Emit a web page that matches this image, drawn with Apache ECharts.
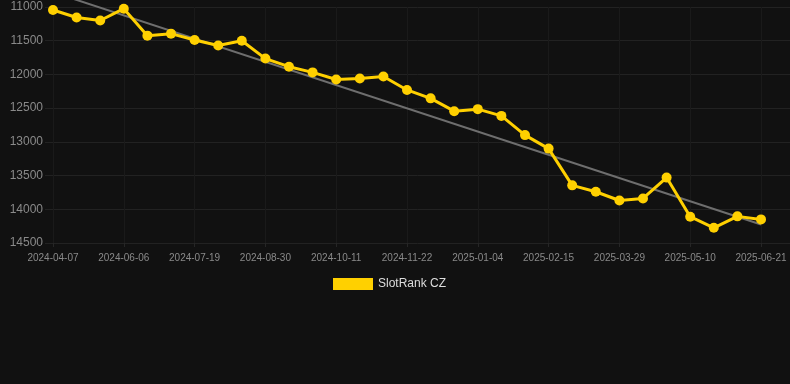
<!DOCTYPE html>
<html>
<head>
<meta charset="utf-8">
<script src="https://cdn.jsdelivr.net/npm/echarts@6/dist/echarts.min.js"></script>
<style>
html,body{margin:0;padding:0;background:#111111;}
#c{width:790px;height:384px;}
</style>
</head>
<body>
<div id="c"></div>
<script>
var categories = [
  "2024-04-07","2024-04-27","2024-05-17","2024-06-06","2024-06-20","2024-07-05",
  "2024-07-19","2024-08-02","2024-08-16","2024-08-30","2024-09-13","2024-09-27",
  "2024-10-11","2024-10-25","2024-11-08","2024-11-22","2024-12-06","2024-12-20",
  "2025-01-04","2025-01-18","2025-02-01","2025-02-15","2025-03-01","2025-03-15",
  "2025-03-29","2025-04-12","2025-04-26","2025-05-10","2025-05-24","2025-06-07",
  "2025-06-21"
];
var rankValues = [
  11045, 11155, 11200, 11025, 11425, 11395,
  11490, 11570, 11500, 11765, 11885, 11970,
  12075, 12060, 12030, 12230, 12355, 12545,
  12515, 12615, 12900, 13100, 13645, 13740,
  13870, 13840, 13530, 14110, 14275, 14105,
  14150
];
var trendStart = 10780;
var trendEnd = 14225;
var yTicks = [11000, 11500, 12000, 12500, 13000, 13500, 14000, 14500];
var seriesName = "SlotRank CZ";

var trendData = categories.map(function (c, i) {
  if (i === 0) return trendStart;
  if (i === categories.length - 1) return trendEnd;
  return null;
});

var yMin = yTicks[0], yMax = yTicks[yTicks.length - 1], yStep = yTicks[1] - yTicks[0];

var chart = echarts.init(document.getElementById('c'), null, {renderer: 'canvas'});
chart.setOption({
  backgroundColor: '#111111',
  animation: false,
  grid: [
    {left: 45, right: 0, top: 7, height: 236, containLabel: false},
    {left: 53, right: 29, top: 7, height: 236, containLabel: false}
  ],
  legend: {
    data: [seriesName],
    top: 273,
    left: 328,
    icon: 'rect',
    itemWidth: 40,
    itemHeight: 12,
    itemGap: 10,
    textStyle: {color: '#dddddd', fontSize: 12, fontFamily: 'Liberation Sans, Arial, sans-serif'}
  },
  xAxis: [
    {
      type: 'value', gridIndex: 0, min: 0, max: 1, show: false,
      splitLine: {show: false}
    },
    {
      type: 'category', gridIndex: 1, data: categories, boundaryGap: false,
      axisLine: {show: false},
      axisTick: {show: true, interval: 2, length: 4, lineStyle: {color: '#262626'}},
      axisLabel: {
        interval: 2, color: '#8a8a8a', fontSize: 10, margin: 10,
        fontFamily: 'Liberation Sans, Arial, sans-serif'
      },
      splitLine: {show: true, interval: 2, lineStyle: {color: '#1a1a1a', width: 1}}
    }
  ],
  yAxis: [
    {
      type: 'value', gridIndex: 0, inverse: true, min: yMin, max: yMax, interval: yStep,
      axisLabel: {show: false}, axisLine: {show: false}, axisTick: {show: false},
      splitLine: {show: true, lineStyle: {color: '#222222', width: 1}}
    },
    {
      type: 'value', gridIndex: 1, inverse: true, min: yMin, max: yMax, interval: yStep,
      axisLine: {show: false}, axisTick: {show: false},
      axisLabel: {
        color: '#8a8a8a', fontSize: 12, margin: 10,
        fontFamily: 'Liberation Sans, Arial, sans-serif',
        formatter: function (v) { return String(v); }
      },
      splitLine: {show: false}
    }
  ],
  series: [
    {
      name: 'trend',
      type: 'line',
      xAxisIndex: 1, yAxisIndex: 1,
      data: trendData,
      connectNulls: true,
      showSymbol: false,
      symbol: 'none',
      clip: false,
      lineStyle: {color: '#6e6e6e', width: 2},
      silent: true,
      z: 1
    },
    {
      name: seriesName,
      type: 'line',
      xAxisIndex: 1, yAxisIndex: 1,
      data: rankValues,
      symbol: 'circle',
      symbolSize: 10,
      clip: false,
      itemStyle: {color: '#FFD000'},
      lineStyle: {color: '#FFD000', width: 3},
      z: 3
    }
  ]
});
</script>
</body>
</html>
